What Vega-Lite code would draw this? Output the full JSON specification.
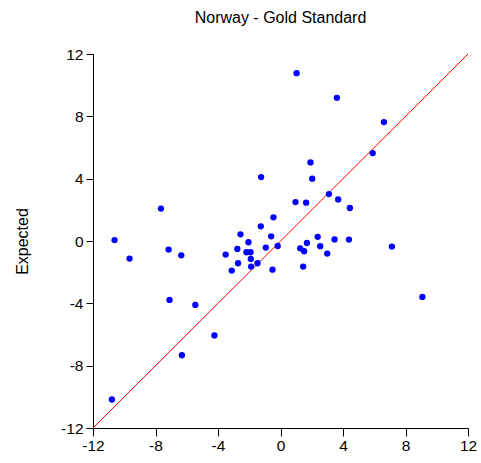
{
  "$schema": "https://vega.github.io/schema/vega-lite/v6.json",
  "width": 375,
  "height": 374,
  "autosize": {"type": "none"},
  "padding": {"left": 93, "top": 54, "right": 13, "bottom": 35},
  "background": "white",
  "title": {"text": "Norway - Gold Standard", "font": "Liberation Sans", "fontSize": 16, "fontWeight": "normal", "color": "black", "anchor": "middle", "offset": 21},
  "config": {
    "view": {"stroke": null},
    "axis": {"grid": false, "domainColor": "black", "tickColor": "black", "labelColor": "black", "labelFont": "Liberation Sans", "labelFontSize": 15.5, "labelFlush": false, "labelExpr": "toString(datum.value)", "titleFont": "Liberation Sans", "titleFontSize": 16, "titleFontWeight": "normal", "titleColor": "black"}
  },
  "layer": [
    {
      "data": {"values": [{"x": -12, "y": -12, "x2": 12, "y2": 12}]},
      "mark": {"type": "rule", "color": "red", "strokeWidth": 1},
      "encoding": {
        "x": {"field": "x", "type": "quantitative", "scale": {"domain": [-12, 12], "nice": false, "zero": false}},
        "y": {"field": "y", "type": "quantitative", "scale": {"domain": [-12, 12], "nice": false, "zero": false}},
        "x2": {"field": "x2"},
        "y2": {"field": "y2"}
      }
    },
    {
      "data": {"values": [
        {"observed": -10.62, "expected": 0.06},
        {"observed": -9.66, "expected": -1.13},
        {"observed": -7.65, "expected": 2.08},
        {"observed": -7.16, "expected": -0.55},
        {"observed": -7.10, "expected": -3.78},
        {"observed": -6.35, "expected": -0.92},
        {"observed": -6.31, "expected": -7.33},
        {"observed": -5.45, "expected": -4.10},
        {"observed": -4.23, "expected": -6.06},
        {"observed": -10.79, "expected": -10.17},
        {"observed": -3.51, "expected": -0.87},
        {"observed": -3.12, "expected": -1.90},
        {"observed": -2.76, "expected": -0.51},
        {"observed": -2.72, "expected": -1.43},
        {"observed": -2.56, "expected": 0.43},
        {"observed": -2.18, "expected": -0.72},
        {"observed": -1.92, "expected": -0.72},
        {"observed": -2.05, "expected": -0.08},
        {"observed": -1.90, "expected": -1.15},
        {"observed": -1.88, "expected": -1.64},
        {"observed": -1.47, "expected": -1.43},
        {"observed": -1.26, "expected": 0.94},
        {"observed": -1.24, "expected": 4.10},
        {"observed": -0.94, "expected": -0.42},
        {"observed": -0.60, "expected": 0.30},
        {"observed": -0.45, "expected": 1.52},
        {"observed": -0.51, "expected": -1.84},
        {"observed": -0.18, "expected": -0.32},
        {"observed": 0.96, "expected": 2.50},
        {"observed": 1.03, "expected": 10.77},
        {"observed": 1.26, "expected": -0.47},
        {"observed": 1.51, "expected": -0.66},
        {"observed": 1.69, "expected": -0.13},
        {"observed": 1.45, "expected": -1.64},
        {"observed": 1.64, "expected": 2.46},
        {"observed": 1.92, "expected": 5.04},
        {"observed": 2.03, "expected": 4.00},
        {"observed": 2.38, "expected": 0.27},
        {"observed": 2.54, "expected": -0.33},
        {"observed": 2.99, "expected": -0.81},
        {"observed": 3.10, "expected": 3.01},
        {"observed": 3.46, "expected": 0.10},
        {"observed": 3.61, "expected": 9.19},
        {"observed": 3.69, "expected": 2.67},
        {"observed": 4.38, "expected": 0.09},
        {"observed": 4.44, "expected": 2.12},
        {"observed": 5.90, "expected": 5.64},
        {"observed": 6.62, "expected": 7.63},
        {"observed": 7.13, "expected": -0.36},
        {"observed": 9.08, "expected": -3.59}
      ]},
      "mark": {"type": "circle", "color": "#0000FF", "opacity": 1, "size": 40},
      "encoding": {
        "x": {"field": "observed", "type": "quantitative", "scale": {"domain": [-12, 12], "nice": false, "zero": false},
          "axis": {"title": null, "values": [-12, -8, -4, 0, 4, 8, 12], "tickSize": 8, "labelPadding": 2}},
        "y": {"field": "expected", "type": "quantitative", "scale": {"domain": [-12, 12], "nice": false, "zero": false},
          "axis": {"title": "Expected", "values": [-12, -8, -4, 0, 4, 8, 12], "tickSize": 7, "labelPadding": 3, "titlePadding": 30}}
      }
    }
  ]
}
